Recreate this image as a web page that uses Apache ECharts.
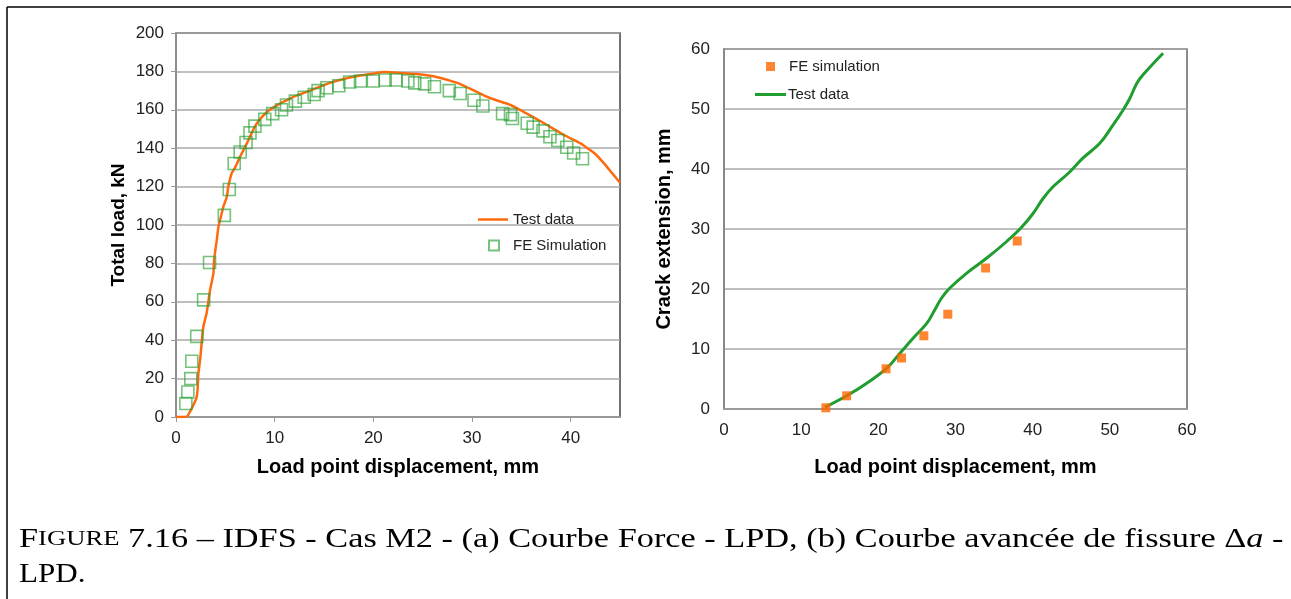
<!DOCTYPE html>
<html>
<head>
<meta charset="utf-8">
<script src="https://cdn.jsdelivr.net/npm/echarts@6/dist/echarts.min.js"></script>
<style>
html,body{margin:0;padding:0;background:#fff;}
#c{width:1291px;height:599px;}
</style>
</head>
<body>
<div id="c"></div>
<script>
// (a) Force - LPD
const testA_x = [0.0,1.0,1.42,2.1,2.27,2.44,2.6,2.77,3.1,3.45,3.79,3.86,4.13,4.3,4.47,4.8,5.15,5.3,5.65,6.0,6.5,7.18,7.5,8.2,9.5,11.6,13.6,15.6,17.7,19.7,21.2,23.0,24.4,26.5,28.5,29.8,31.9,33.9,35.2,37.3,39.3,41.0,41.7,42.5,43.4,44.2,45.0];
const testA_y = [0,0,2.8,10.6,22.7,29.7,38.4,47,54,66,74.8,81.8,92,99,102.6,109.5,114.7,120,127,130,135.6,142.5,146,153,160,166,170,174,177,178.6,179.7,179,178.6,177,174,171,166,162.5,159,153,147,142.5,140,137,132,127,122];
const feA_x = [1.0,1.2,1.5,1.6,2.1,2.8,3.4,4.9,5.4,5.9,6.5,7.1,7.5,8.0,9.0,9.8,10.7,11.2,12.1,13.0,14.0,14.4,15.3,16.5,17.6,18.7,20.0,21.2,22.3,23.5,24.2,25.2,26.2,27.7,28.8,30.2,31.1,33.1,33.9,34.1,35.6,36.2,37.2,37.9,38.7,39.6,40.3,41.2];
const feA_y = [7,13,20,29,42,61,80.5,105,118.5,132,138,143,148,151.5,155,158,160,162.5,164.5,166.5,168,170,171.5,172.5,174.5,175,175,175.5,175.5,175,174,173.5,172,170,168.5,165,162,158,157.5,155.5,153,151,149,146,144,140.5,137.5,134.5];
// (b) Crack extension - LPD
const testB_x = [13.1,15.9,18.5,21.1,22.8,24.5,26.3,27.3,28.2,29.3,31.5,34.1,36.7,38.5,40.0,41.3,42.6,44.8,46.5,48.7,50.4,51.7,52.6,53.5,54.3,56.9];
const testB_y = [0.3,2.2,4.3,6.8,9.3,11.8,14.3,16.5,18.5,20.2,22.7,25.2,28,30.2,32.5,35,37,39.5,41.8,44.3,47.3,49.8,51.8,54.3,55.7,59.3];
const feB_x = [13.2,15.9,21.0,23.0,25.9,29.0,33.9,38.0];
const feB_y = [0.2,2.2,6.7,8.5,12.2,15.8,23.5,28.0];

const xTicksA = [0,10,20,30,40];
const yTicksA = [0,20,40,60,80,100,120,140,160,180,200];
const xTicksB = [0,10,20,30,40,50,60];
const yTicksB = [0,10,20,30,40,50,60];

const captionLine1 = ['F', 'IGURE', ' 7.16 – IDFS - Cas M2 - (a) Courbe Force - LPD, (b) Courbe avancée de fissure Δ', 'a', ' -'];
const captionLine2 = 'LPD.';

const zip = (xs, ys) => xs.map((x, i) => [x, ys[i]]);
const sans = 'Liberation Sans, Arial, sans-serif';
const serif = 'Liberation Serif, Times New Roman, serif';
const legText = {fontFamily: sans, fontSize: 15, color: '#222'};

const chart = echarts.init(document.getElementById('c'), null, {renderer: 'canvas'});
chart.setOption({
  animation: false,
  backgroundColor: '#fff',
  grid: [
    {left: 176, top: 33, width: 444, height: 384, show: true, borderColor: '#444', borderWidth: 1.5, backgroundColor: 'transparent'},
    {left: 724, top: 49, width: 463, height: 360, show: true, borderColor: '#666', borderWidth: 1.5, backgroundColor: 'transparent'}
  ],
  xAxis: [
    {gridIndex: 0, type: 'value', min: 0, max: 45, interval: 10,
     name: 'Load point displacement, mm', nameLocation: 'middle', nameGap: 40,
     nameTextStyle: {fontFamily: sans, fontWeight: 'bold', fontSize: 20, color: '#000'},
     axisLine: {show: true, lineStyle: {color: '#999', width: 1.5}},
     axisTick: {show: true, length: 5, lineStyle: {color: '#999'}},
     axisLabel: {fontFamily: sans, fontSize: 17, color: '#222', margin: 13, showMaxLabel: false,
       formatter: v => xTicksA.includes(v) ? String(v) : ''},
     splitLine: {show: false}},
    {gridIndex: 1, type: 'value', min: 0, max: 60, interval: 10,
     name: 'Load point displacement, mm', nameLocation: 'middle', nameGap: 48,
     nameTextStyle: {fontFamily: sans, fontWeight: 'bold', fontSize: 20, color: '#000'},
     axisLine: {show: true, lineStyle: {color: '#999', width: 1.5}},
     axisTick: {show: false},
     axisLabel: {fontFamily: sans, fontSize: 17, color: '#222', margin: 13,
       formatter: v => xTicksB.includes(v) ? String(v) : ''},
     splitLine: {show: false}}
  ],
  yAxis: [
    {gridIndex: 0, type: 'value', min: 0, max: 200, interval: 20,
     name: 'Total load, kN', nameLocation: 'middle', nameGap: 48,
     nameTextStyle: {fontFamily: sans, fontWeight: 'bold', fontSize: 19, color: '#000'},
     axisLine: {show: true, lineStyle: {color: '#999', width: 1.5}},
     axisTick: {show: true, length: 5, lineStyle: {color: '#999'}},
     axisLabel: {fontFamily: sans, fontSize: 17, color: '#222', margin: 12,
       formatter: v => yTicksA.includes(v) ? String(v) : ''},
     splitLine: {show: true, lineStyle: {color: '#a8a8a8', width: 1.5}}},
    {gridIndex: 1, type: 'value', min: 0, max: 60, interval: 10,
     name: 'Crack extension, mm', nameLocation: 'middle', nameGap: 50,
     nameTextStyle: {fontFamily: sans, fontWeight: 'bold', fontSize: 20, color: '#000'},
     axisLine: {show: true, lineStyle: {color: '#888', width: 1.5}},
     axisTick: {show: false},
     axisLabel: {fontFamily: sans, fontSize: 17, color: '#222', margin: 14,
       formatter: v => yTicksB.includes(v) ? String(v) : ''},
     splitLine: {show: true, lineStyle: {color: '#a8a8a8', width: 1.5}}}
  ],
  legend: [
    {left: 478, top: 212, padding: 0, itemWidth: 30, itemHeight: 2.5, textStyle: legText,
     data: [{name: 'Test data', icon: 'rect'}]},
    {left: 488, top: 238, padding: 0, itemWidth: 10, itemHeight: 10, textStyle: Object.assign({padding: [0, 0, 0, 9]}, legText),
     data: [{name: 'FE Simulation', icon: 'rect'}]},
    {left: 766, top: 59, padding: 0, itemWidth: 9, itemHeight: 9, textStyle: Object.assign({padding: [0, 0, 0, 9]}, legText),
     data: [{name: 'FE simulation', icon: 'rect'}]},
    {left: 755, top: 87, padding: 0, itemWidth: 31, itemHeight: 3, itemGap: 0, textStyle: Object.assign({padding: [0, 0, 0, -3]}, legText),
     data: [{name: 'Test data ', icon: 'rect'}]}
  ],
  series: [
    {name: 'Test data', type: 'line', xAxisIndex: 0, yAxisIndex: 0, data: zip(testA_x, testA_y),
     symbol: 'none', smooth: 0.25, lineStyle: {color: '#ff6a0d', width: 2.5}, itemStyle: {color: '#ff6a0d'}, z: 3},
    {name: 'FE Simulation', type: 'scatter', xAxisIndex: 0, yAxisIndex: 0, data: zip(feA_x, feA_y),
     symbol: 'rect', symbolSize: 12,
     itemStyle: {color: 'rgba(255,255,255,0)', borderColor: 'rgba(40,160,50,0.8)', borderWidth: 1.6}, z: 4},
    {name: 'Test data ', type: 'line', xAxisIndex: 1, yAxisIndex: 1, data: zip(testB_x, testB_y),
     symbol: 'none', smooth: 0.4, lineStyle: {color: '#1f9d2f', width: 3}, itemStyle: {color: '#1f9d2f'}, z: 3},
    {name: 'FE simulation', type: 'scatter', xAxisIndex: 1, yAxisIndex: 1, data: zip(feB_x, feB_y),
     symbol: 'rect', symbolSize: 9, itemStyle: {color: '#ff6600'}, z: 4}
  ],
  graphic: [
    {type: 'line', shape: {x1: 7, y1: 7, x2: 1291, y2: 7}, style: {stroke: '#000', lineWidth: 1.5}},
    {type: 'line', shape: {x1: 7, y1: 7, x2: 7, y2: 599}, style: {stroke: '#000', lineWidth: 1.5}},
    {type: 'text', x: 19, y: 526, scaleX: 1.27, style: {
      text: '{a|' + captionLine1[0] + '}{b|' + captionLine1[1] + '}{a|' + captionLine1[2] + '}{i|' + captionLine1[3] + '}{a|' + captionLine1[4] + '}',
      rich: {
        a: {fontFamily: serif, fontSize: 27, fill: '#000'},
        b: {fontFamily: serif, fontSize: 21, fill: '#000'},
        i: {fontFamily: serif, fontSize: 27, fontStyle: 'italic', fill: '#000'}
      }}},
    {type: 'text', x: 19, y: 561, scaleX: 1.15, style: {text: captionLine2, fontFamily: serif, fontSize: 27, fill: '#000'}}
  ]
});
</script>
</body>
</html>
